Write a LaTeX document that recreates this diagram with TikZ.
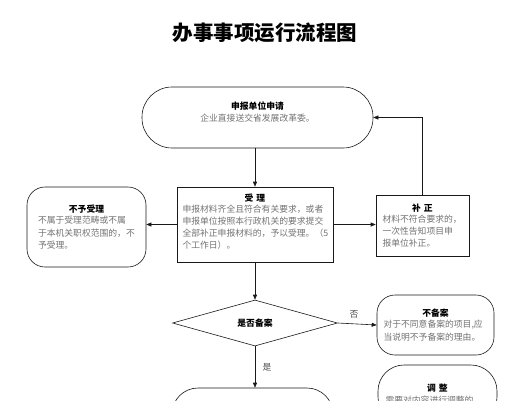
\documentclass[tikz,border=0pt]{standalone}
\usepackage{fontspec}
\setmainfont{Noto Sans CJK SC}
\usetikzlibrary{arrows.meta, shapes.geometric}
\newcommand{\boxhead}[1]{\makebox[\hsize]{\color{black}\bfseries #1}}

\begin{document}
\begin{tikzpicture}[x=1pt, y=-1pt,
  box/.style={draw=black!90, line width=0.6pt, fill=white, text=black!55, inner sep=2pt, font=\fontsize{8.8}{12.2}\selectfont, align=left},
  roundbox/.style={box, rounded corners=18pt},
  flow/.style={draw=black!90, line width=0.6pt, -{Triangle[length=5pt,width=4pt]}},
  mark label/.style={font=\fontsize{8.8}{10}\selectfont, text=black!70}]
\useasboundingbox (0.000000,0.000000) rectangle (518.000000,400.000000);
\clip (0.000000,0.000000) rectangle (518.000000,400.000000);
\node (title) at (265.000000,33.000000) [font=\bfseries\fontsize{20.5}{24}\selectfont] {办事事项运行流程图};
\node (apply) at (257.500000,117.500000) [box, align=center, rounded corners=30pt, minimum width=231pt, minimum height=61pt] {{\color{black}\bfseries 申报单位申请}\\企业直接送交省发展改革委。\\\mbox{}};
\node (accept) at (255.000000,224.500000) [box, text width=145pt, minimum width=156pt, minimum height=75pt] {\boxhead{受\ 理}\\[-1.5pt]申报材料齐全且符合有关要求，或者\\申报单位按照本行政机关的要求提交\\全部补正申报材料的，予以受理。（5\\个工作日）。\\[-6pt]\mbox{}};
\node (reject) at (86.500000,227.000000) [roundbox, text width=97pt, minimum width=119pt, minimum height=80pt] {\boxhead{不予受理}\\[-1pt]不属于受理范畴或不属\\于本机关职权范围的，不\\予受理。};
\node (amend) at (422.500000,225.500000) [box, text width=80pt, minimum width=93pt, minimum height=61pt] {\boxhead{补\ 正}\\[-1pt]材料不符合要求的，\\一次性告知项目申\\报单位补正。};
\node (decide) at (255.000000,323.000000) [draw=black!90, line width=0.6pt, diamond, aspect=3.6, inner sep=1pt, minimum width=165pt, minimum height=46pt, font=\bfseries\fontsize{8.8}{10}\selectfont] {是否备案};
\node (nofile) at (435.500000,325.000000) [roundbox, text width=104pt, minimum width=117pt, minimum height=60pt] {\boxhead{不备案}\\[-1pt]对于不同意备案的项目,应\\当说明不予备案的理由。};
\node (adjust) at (437.500000,394.000000) [roundbox, rounded corners=26pt, text width=104pt, minimum width=119pt, minimum height=58pt] {\boxhead{调\ 整}\\[-1pt]需要对内容进行调整的};
\node (register) at (252.500000,418.000000) [roundbox, rounded corners=26pt, minimum width=161pt, minimum height=60pt] {};
\draw [flow] (accept.north |- apply.south) -- (accept.north);
\draw [flow] (accept.west) -- (accept.west -| reject.east);
\draw [flow] (accept.east) -- (accept.east -| amend.west);
\draw [flow] (amend.north) |- (apply.east);
\draw [flow] (accept.south) -- (decide.north);
\draw [flow] (decide.east) -- node [mark label, above=2pt, pos=0.42] {否} (nofile.west);
\draw [flow] (decide.south) -- node [mark label, right=4pt] {是} (decide.south |- register.north);
\end{tikzpicture}
\end{document}
